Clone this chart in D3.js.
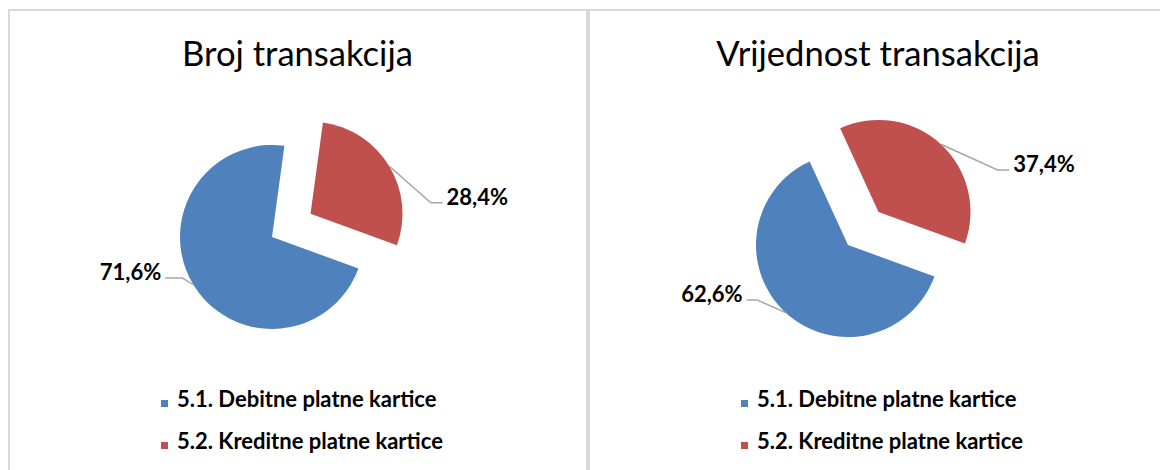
<!DOCTYPE html>
<html>
<head>
<meta charset="utf-8">
<script src="https://cdn.jsdelivr.net/npm/d3@7"></script>
<style>
  body { margin: 0; background: #fff; }
  svg { display: block; font-family: Lato, 'Open Sans', sans-serif; }
</style>
</head>
<body>
<div id="chart"></div>
<script>
// chart data
const categories = ['5.1. Debitne platne kartice', '5.2. Kreditne platne kartice'];
const chartTitles = ['Broj transakcija', 'Vrijednost transakcija'];
const brojShares = [71.6, 28.4];
const vrijednostShares = [62.6, 37.4];
const sliceColors = ['#4f81bd', '#c0504d'];

// layout of the two panels (pie centre, label leader offsets)
const width = 1160;
const height = 470;
const radius = 92;
const explode = 45;
const firstSliceAngle = 110 * Math.PI / 180;
const panelLayout = [
  { x: 8, w: 579, cx: 272, cy: 237, leaders: [[-11, -6.6, -17], [41.6, 36.6, 11.7]] },
  { x: 588, w: 580, cx: 848, cy: 245, leaders: [[-28.3, -12.6, -10.7], [56.7, 25.6, 11.7]] }
];

const locale = d3.formatLocale({ decimal: ',', thousands: '.', grouping: [3], currency: ['', ''] });
const pct = v => locale.format('.1f')(v) + '%';

const svg = d3.select('#chart')
  .append('svg')
    .attr('width', width)
    .attr('height', height);

const color = d3.scaleOrdinal()
  .domain(categories)
  .range(sliceColors);

const pie = d3.pie()
  .sort(null)
  .startAngle(firstSliceAngle)
  .endAngle(firstSliceAngle + 2 * Math.PI)
  .value(d => d.value);

const arc = d3.arc()
  .innerRadius(0)
  .outerRadius(radius);

[brojShares, vrijednostShares].forEach(function (values, i) {
  const lay = panelLayout[i];
  const g = svg.append('g').attr('transform', `translate(${lay.x},0)`);

  // panel frame
  g.append('rect')
    .attr('x', 1)
    .attr('y', 10)
    .attr('width', lay.w - 1)
    .attr('height', height)
    .attr('fill', 'none')
    .attr('stroke', '#d9d9d9')
    .attr('stroke-width', 2);

  // title
  g.append('text')
    .attr('x', lay.w / 2)
    .attr('y', 66)
    .attr('text-anchor', 'middle')
    .style('font-size', '34.6px')
    .style('fill', '#000')
    .text(chartTitles[i]);

  const data = categories.map((c, k) => ({ category: c, value: values[k] }));
  const slices = pie(data);
  const pieG = svg.append('g').attr('transform', `translate(${lay.cx},${lay.cy})`);

  // shift of the exploded (second) slice
  const shift = d => {
    if (d.index === 0) return [0, 0];
    const mid = (d.startAngle + d.endAngle) / 2;
    return [explode * Math.sin(mid), -explode * Math.cos(mid)];
  };

  pieG.selectAll('path')
    .data(slices)
    .join('path')
      .attr('d', arc)
      .attr('transform', d => `translate(${shift(d)})`)
      .attr('fill', d => color(d.data.category));

  // leader lines and labels
  slices.forEach(function (d, k) {
    const mid = (d.startAngle + d.endAngle) / 2;
    const s = shift(d);
    const p0 = [s[0] + radius * Math.sin(mid), s[1] - radius * Math.cos(mid)];
    const off = lay.leaders[k];
    const p1 = [p0[0] + off[0], p0[1] + off[1]];
    const p2 = [p1[0] + off[2], p1[1]];
    pieG.append('polyline')
      .attr('points', [p0, p1, p2].map(p => p.join(',')).join(' '))
      .attr('fill', 'none')
      .attr('stroke', '#a6a6a6')
      .attr('stroke-width', 1.5);
    pieG.append('text')
      .attr('x', p2[0] + (off[2] < 0 ? -4 : 4))
      .attr('y', p2[1] + 2)
      .attr('text-anchor', off[2] < 0 ? 'end' : 'start')
      .style('font-size', '22px')
      .style('font-weight', 'bold')
      .style('fill', '#000')
      .text(pct(d.data.value));
  });

  // legend
  const legend = g.append('g').attr('transform', 'translate(153,407)');
  const items = legend.selectAll('g')
    .data(categories)
    .join('g')
      .attr('transform', (c, k) => `translate(0,${k * 42})`);
  items.append('rect')
    .attr('x', 0)
    .attr('y', -7)
    .attr('width', 7)
    .attr('height', 7)
    .attr('fill', c => color(c));
  items.append('text')
    .attr('x', 16)
    .attr('y', 0)
    .style('font-size', '22px')
    .style('font-weight', 'bold')
    .style('fill', '#000')
    .text(c => c);
});
</script>
</body>
</html>
